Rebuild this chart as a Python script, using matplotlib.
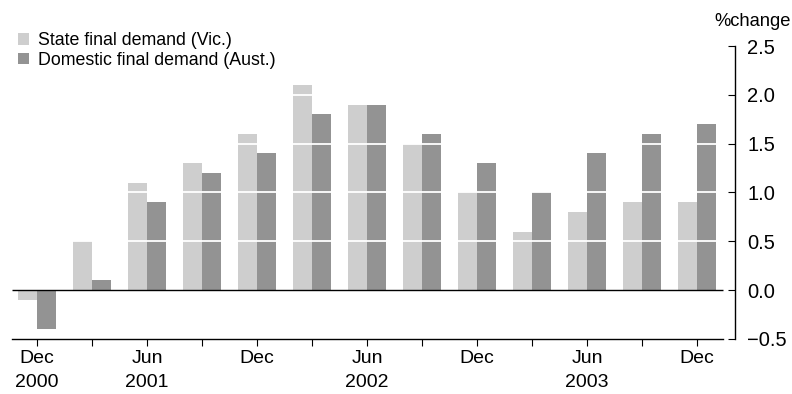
import numpy as np
import matplotlib.pyplot as plt

# Quarterly % change, Dec 2000 .. Dec 2003
quarters = ["Dec\n2000", "", "Jun\n2001", "", "Dec", "", "Jun\n2002", "",
            "Dec", "", "Jun\n2003", "", "Dec"]
state_vic = [-0.1, 0.5, 1.1, 1.3, 1.6, 2.1, 1.9, 1.5, 1.0, 0.6, 0.8, 0.9, 0.9]
domestic_aus = [-0.4, 0.1, 0.9, 1.2, 1.4, 1.8, 1.9, 1.6, 1.3, 1.0, 1.4, 1.6, 1.7]
yticks = [-0.5, 0.0, 0.5, 1.0, 1.5, 2.0, 2.5]

plt.rcParams['font.family'] = ['Liberation Sans', 'DejaVu Sans']

fig = plt.figure(figsize=(7.92, 3.94), dpi=100)
ax = fig.add_axes([12/792, 1 - 339/394, (735 - 12)/792, (339 - 46)/394])

x = np.arange(len(quarters))
w = 0.35
ax.bar(x - w/2, state_vic, w, color='#cecece', label='State final demand (Vic.)', zorder=2)
ax.bar(x + w/2, domestic_aus, w, color='#939393', label='Domestic final demand (Aust.)', zorder=2)

x0, x1 = -0.455, 12.47
ax.set_xlim(x0, 12.69)
ax.set_ylim(-0.5, 2.5)

# white gridlines over the bars
for g in [0.5, 1.0, 1.5, 2.0]:
    ax.hlines(g, x0, x1, color='white', lw=1.3, zorder=3)
ax.hlines(0, x0, x1, color='black', lw=1.0, zorder=4)

for s in ['top', 'left']:
    ax.spines[s].set_visible(False)
ax.spines['bottom'].set_bounds(x0, x1)
ax.spines['bottom'].set_linewidth(1.0)
ax.spines['right'].set_linewidth(1.0)

ax.yaxis.tick_right()
ax.set_yticks(yticks)
ax.set_yticklabels([f"{v:.1f}".replace('-', '\u2212') for v in yticks])
ax.tick_params(axis='y', direction='in', length=5, pad=9, labelsize=14.5)

ax.set_xticks(x)
ax.set_xticklabels(quarters, linespacing=1.5)
ax.tick_params(axis='x', direction='out', length=5, pad=3, labelsize=14)

fig.text(714/792, 1 - 21/394, '%change', fontsize=13.2, va='center', ha='left')

fig.legend(*ax.get_legend_handles_labels(), loc='upper left',
           bbox_to_anchor=(18/792, 1 - 32/394), frameon=False,
           handlelength=0.62, handleheight=0.62, handletextpad=0.5,
           labelspacing=0.15, borderaxespad=0, borderpad=0, fontsize=12.8)

fig.savefig('out.png', dpi=100)
